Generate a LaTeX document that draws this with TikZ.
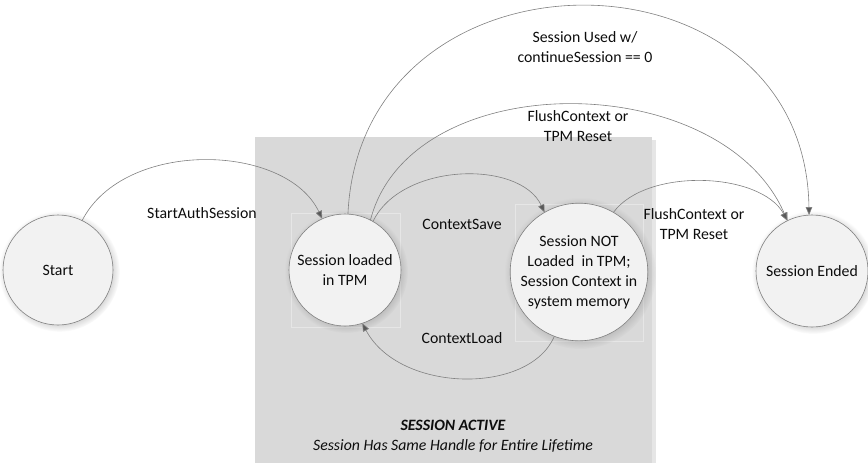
\documentclass[tikz,border=0pt]{standalone}
\usepackage{fontspec}
\setmainfont{Carlito}
\usetikzlibrary{arrows.meta,shadows}
\definecolor{boxgray}{HTML}{D9D9D9}
\definecolor{nodefill}{HTML}{F2F2F2}
\definecolor{linegray}{HTML}{808080}
\definecolor{arrowgray}{HTML}{595959}
\definecolor{faintline}{HTML}{E6E6E6}
\definecolor{boxshadow}{HTML}{E6E6E6}
\definecolor{txt}{HTML}{0D0D0D}
\begin{document}
\begin{tikzpicture}[x=1pt,y=-1pt, font=\fontsize{15.8}{20}\selectfont, text=txt,
  state/.style={circle, draw=linegray, line width=0.6pt, fill=nodefill, outer sep=0pt, inner sep=0pt, align=center,
    circular drop shadow={shadow xshift=1.2pt, shadow yshift=-1.2pt, fill=gray, opacity=0.35}},
  trans/.style={draw=linegray, line width=0.6pt, -{Triangle[length=8pt,width=6.5pt,fill=arrowgray]}},
  lbl/.style={align=center, inner sep=0pt},
  faintbox/.style={draw=faintline, line width=0.5pt},
]
\useasboundingbox (0,0) rectangle (868,463);
% session active region
\fill[boxshadow] (652,140) rectangle (656,463);
\fill[boxgray] (255,137) rectangle (652,463);
\draw[faintbox] (291,213) rectangle (400,327);
\draw[faintbox] (515,204) rectangle (643,341);
\node[lbl, font=\fontsize{15.8}{20}\selectfont\bfseries\itshape] (act) at (453,425) {SESSION ACTIVE};
\node[lbl, font=\fontsize{15.8}{20}\selectfont\itshape] (life) at (453,446) {Session Has Same Handle for Entire Lifetime};
% states
\node[state, minimum size=110pt] (start) at (58,270) {Start};
\node[state, minimum size=112pt] (loaded) at (345,270) {Session loaded\\in TPM};
\node[state, minimum size=132pt] (not) at (579,272) {Session NOT\\Loaded\ \ in TPM;\\Session Context in\\system memory};
\node[state, minimum size=112pt] (ended) at (812,271) {Session Ended};
% transitions
\draw[trans] (start.64) .. controls +(42,-82) and +(-36,-76) .. (loaded.114);
\draw[trans] (loaded.60) .. controls +(28,-59) and +(-25,-53) .. (not.120);
\draw[trans] (not.-111) .. controls +(-25,59) and +(37,70) .. (loaded.-72);
\draw[trans] (loaded.87) .. controls +(13,-278) and +(-4,-278) .. (ended.93);
\draw[trans] (loaded.63) .. controls +(40,-155) and +(-67,-154) .. (ended.116);
\draw[trans] (not.60) .. controls +(33,-45) and +(-27,-49) .. (ended.116);
% labels
\node[lbl] (l1) at (202,213) {StartAuthSession};
\node[lbl] (l2) at (462,224) {ContextSave};
\node[lbl] (l3) at (462,338) {ContextLoad};
\node[lbl] (l4) at (585,47) {Session Used w/\\continueSession == 0};
\node[lbl] (l5) at (578,126) {FlushContext or\\TPM Reset};
\node[lbl] (l6) at (694,224) {FlushContext or\\TPM Reset};
\end{tikzpicture}
\end{document}
